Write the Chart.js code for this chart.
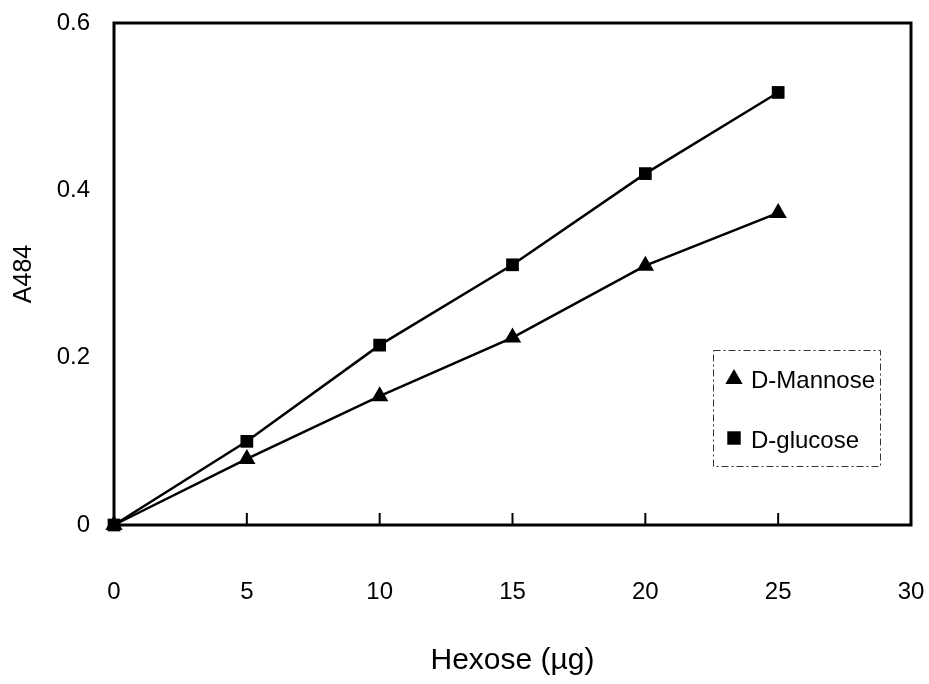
<!DOCTYPE html>
<html>
<head>
<meta charset="utf-8">
<script src="https://cdn.jsdelivr.net/npm/chart.js@4/dist/chart.umd.min.js"></script>
<style>
  html, body { margin: 0; padding: 0; background: #ffffff; }
  #wrap { width: 929px; height: 684px; }
</style>
</head>
<body>
<div id="wrap"><canvas id="c" width="929" height="684"></canvas></div>
<script>
// Hexose amount (µg) and absorbance at 484 nm
const hexose = [0, 5, 10, 15, 20, 25];
const mannose = [0, 0.079, 0.154, 0.224, 0.310, 0.373];
const glucose = [0, 0.100, 0.215, 0.311, 0.420, 0.517];
const xTicks = [0, 5, 10, 15, 20, 25, 30];
const yTicks = [0, 0.2, 0.4, 0.6];

const FONT = '"Liberation Sans", Arial, Helvetica, sans-serif';

function toPoints(xs, ys) {
  return xs.map((x, i) => ({ x: x, y: ys[i] }));
}

// Box around the plot area plus short inward tick marks on the x axis
const framePlugin = {
  id: 'frame',
  beforeDatasetsDraw(chart) {
    const { ctx, chartArea: a, scales } = chart;
    ctx.save();
    ctx.strokeStyle = '#000';
    ctx.lineWidth = 3;
    ctx.strokeRect(a.left, a.top, a.right - a.left, a.bottom - a.top);
    ctx.lineWidth = 2;
    xTicks.forEach(v => {
      if (v === xTicks[0] || v === xTicks[xTicks.length - 1]) return;
      const px = scales.x.getPixelForValue(v);
      ctx.beginPath();
      ctx.moveTo(px, a.bottom);
      ctx.lineTo(px, a.bottom - 12);
      ctx.stroke();
    });
    ctx.restore();
  }
};

// Legend drawn inside a dash-dot box in the lower right of the plot
const boxLegendPlugin = {
  id: 'boxLegend',
  afterDraw(chart) {
    const { ctx } = chart;
    const box = { x: 713, y: 350, w: 167, h: 116 };
    ctx.save();
    ctx.strokeStyle = '#333';
    ctx.lineWidth = 1;
    ctx.setLineDash([7, 3, 2, 3]);
    ctx.strokeRect(box.x + 0.5, box.y + 0.5, box.w, box.h);
    ctx.setLineDash([]);
    const rows = [378, 438];
    chart.data.datasets.forEach((ds, i) => {
      const cy = rows[i];
      ctx.fillStyle = '#000';
      Chart.helpers.drawPoint(ctx, {
        pointStyle: ds.pointStyle,
        radius: ds.pointStyle === 'triangle' ? 10 : 9.5,
        rotation: 0,
        borderWidth: 0
      }, 734, cy + (ds.pointStyle === 'triangle' ? 1 : 0));
      ctx.fillStyle = '#000';
      ctx.font = '24px ' + FONT;
      ctx.textBaseline = 'middle';
      ctx.textAlign = 'left';
      ctx.fillText(ds.label, 751, cy + 3);
    });
    ctx.restore();
  }
};

new Chart(document.getElementById('c'), {
  type: 'scatter',
  data: {
    datasets: [
      {
        label: 'D-Mannose',
        data: toPoints(hexose, mannose),
        showLine: true,
        clip: false,
        borderColor: '#000',
        backgroundColor: '#000',
        borderWidth: 2.5,
        pointStyle: 'triangle',
        pointRadius: 10,
        pointBorderWidth: 0,
        tension: 0
      },
      {
        label: 'D-glucose',
        data: toPoints(hexose, glucose),
        showLine: true,
        clip: false,
        borderColor: '#000',
        backgroundColor: '#000',
        borderWidth: 2.5,
        pointStyle: 'rect',
        pointRadius: 9,
        pointBorderWidth: 0,
        tension: 0
      }
    ]
  },
  options: {
    responsive: false,
    animation: false,
    layout: { padding: { top: 23, right: 18, left: 0, bottom: 0 } },
    plugins: {
      legend: { display: false },
      tooltip: { enabled: false }
    },
    scales: {
      x: {
        type: 'linear',
        min: 0,
        max: 30,
        afterFit(s) { s.height = 159; },
        afterBuildTicks(s) { s.ticks = xTicks.map(v => ({ value: v })); },
        grid: { display: false, drawTicks: true, tickLength: 51 },
        border: { display: false },
        ticks: {
          padding: 2,
          color: '#000',
          font: { family: FONT, size: 24 },
          maxRotation: 0,
          autoSkip: false
        },
        title: {
          display: true,
          text: 'Hexose (µg)',
          color: '#000',
          font: { family: FONT, size: 30 },
          padding: { top: 0, bottom: 5 }
        }
      },
      y: {
        type: 'linear',
        min: 0,
        max: 0.6,
        afterFit(s) { s.width = 114; },
        afterBuildTicks(s) { s.ticks = yTicks.map(v => ({ value: v })); },
        grid: { display: false, drawTicks: true, tickLength: 20 },
        border: { display: false },
        ticks: {
          padding: 4,
          color: '#000',
          font: { family: FONT, size: 24 },
          callback: v => String(v)
        },
        title: {
          display: true,
          text: 'A484',
          color: '#000',
          font: { family: FONT, size: 25 },
          padding: { top: 9, bottom: 0 }
        }
      }
    }
  },
  plugins: [framePlugin, boxLegendPlugin]
});
</script>
</body>
</html>
